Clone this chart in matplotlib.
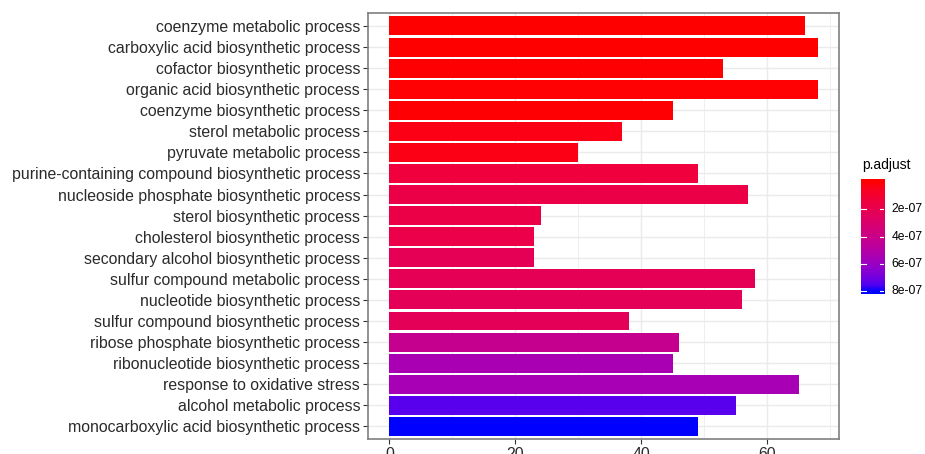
import numpy as np
import matplotlib
matplotlib.use("Agg")
import matplotlib.pyplot as plt

plt.rcParams['font.family'] = ['Liberation Sans', 'DejaVu Sans']

categories = [
    "coenzyme metabolic process",
    "carboxylic acid biosynthetic process",
    "cofactor biosynthetic process",
    "organic acid biosynthetic process",
    "coenzyme biosynthetic process",
    "sterol metabolic process",
    "pyruvate metabolic process",
    "purine-containing compound biosynthetic process",
    "nucleoside phosphate biosynthetic process",
    "sterol biosynthetic process",
    "cholesterol biosynthetic process",
    "secondary alcohol biosynthetic process",
    "sulfur compound metabolic process",
    "nucleotide biosynthetic process",
    "sulfur compound biosynthetic process",
    "ribose phosphate biosynthetic process",
    "ribonucleotide biosynthetic process",
    "response to oxidative stress",
    "alcohol metabolic process",
    "monocarboxylic acid biosynthetic process",
]
counts = [66, 68, 53, 68, 45, 37, 30, 49, 57, 24, 23, 23, 58, 56, 38, 46, 45, 65, 55, 49]
p_adjust = [5e-10, 1e-09, 3e-09, 4e-09, 6e-09, 3.2e-08, 3.2e-08, 1.36e-07, 1.76e-07, 1.76e-07,
            1.78e-07, 2.24e-07, 2.24e-07, 2.25e-07, 2.26e-07, 4.24e-07, 5.5e-07, 5.55e-07, 7.44e-07, 8.0e-07]
x_ticks = [0, 20, 40, 60]
cbar_ticks = [2e-07, 4e-07, 6e-07, 8e-07]
cbar_labels = ["2e-07", "4e-07", "6e-07", "8e-07"]

# --- Lab-space gradient red -> blue (as ggplot's seq_gradient_pal) ---
M = np.array([[0.4124564, 0.3575761, 0.1804375],
              [0.2126729, 0.7151522, 0.0721750],
              [0.0193339, 0.1191920, 0.9503041]])
Minv = np.linalg.inv(M)
WHITE = np.array([0.95047, 1.0, 1.08883])

def rgb2lab(rgb):
    c = np.asarray(rgb, float)
    lin = np.where(c <= 0.04045, c / 12.92, ((c + 0.055) / 1.055) ** 2.4)
    xyz = M @ lin / WHITE
    f = np.where(xyz > (6/29) ** 3, np.cbrt(xyz), xyz / (3 * (6/29) ** 2) + 4/29)
    return np.array([116 * f[1] - 16, 500 * (f[0] - f[1]), 200 * (f[1] - f[2])])

def lab2rgb(lab):
    L, a, b = lab
    fy = (L + 16) / 116
    fx = fy + a / 500
    fz = fy - b / 200
    f = np.array([fx, fy, fz])
    xyz = np.where(f > 6/29, f ** 3, 3 * (6/29) ** 2 * (f - 4/29)) * WHITE
    lin = Minv @ xyz
    lin = np.clip(lin, 0, 1)
    c = np.where(lin <= 0.0031308, 12.92 * lin, 1.055 * lin ** (1/2.4) - 0.055)
    return np.clip(c, 0, 1)

LAB_LO = rgb2lab([1, 0, 0])
LAB_HI = rgb2lab([0, 0, 1])

def grad(t):
    return lab2rgb(LAB_LO + (LAB_HI - LAB_LO) * t)

vmin, vmax = min(p_adjust), max(p_adjust)
colors = [grad((p - vmin) / (vmax - vmin)) for p in p_adjust]

W, H = 925, 454
fig = plt.figure(figsize=(W / 100, H / 100), dpi=100)

px_l, px_r, px_t, px_b = 368, 839, 13.3, 439
ax = fig.add_axes([px_l / W, 1 - px_b / H, (px_r - px_l) / W, (px_b - px_t) / H])

n = len(categories)
ypos = np.arange(n)
ax.set_axisbelow(True)
ax.barh(ypos, counts, height=0.9, color=colors, edgecolor='none', zorder=2)

xmax = max(counts)
ax.set_xlim(-0.05 * xmax, xmax * 1.05)
ax.set_ylim(n - 1 + 0.6, -0.6)

for v in range(10, 80, 20):
    ax.axvline(v, color='#EBEBEB', lw=0.55, zorder=0)
for v in x_ticks:
    ax.axvline(v, color='#EBEBEB', lw=1.07, zorder=0)
for y in ypos:
    ax.axhline(y, color='#EBEBEB', lw=1.07, zorder=0)

ax.set_xticks(x_ticks)
ax.set_xticklabels([str(v) for v in x_ticks])
ax.set_yticks(ypos)
ax.set_yticklabels(categories)
ax.tick_params(axis='both', labelsize=11.4, labelcolor='#2b2b2b', color='#333333',
               length=3.6, width=0.8, pad=2.0)
for s in ax.spines.values():
    s.set_color('#7f7f7f')
    s.set_linewidth(1.2)

# --- colorbar (reversed: low values at top) ---
cb_l, cb_r, cb_t, cb_b = 861, 884.3, 179.3, 294.3
cax = fig.add_axes([cb_l / W, 1 - cb_b / H, (cb_r - cb_l) / W, (cb_b - cb_t) / H])
nbin = 20
vals = np.linspace(vmin, vmax, nbin)
img = np.array([[grad((v - vmin) / (vmax - vmin))] for v in vals])
hb = (vmax - vmin) / (nbin - 1) / 2
cax.imshow(img, aspect='auto', interpolation='bilinear',
           extent=[0, 1, vmax + hb, vmin - hb], origin='upper')
cax.set_xlim(0, 1)
cax.set_ylim(vmax + hb, vmin - hb)
for v in cbar_ticks:
    cax.plot([0, 0.2], [v, v], color='white', lw=0.8)
    cax.plot([0.8, 1], [v, v], color='white', lw=0.8)
cax.set_xticks([])
cax.set_yticks([])
for s in cax.spines.values():
    s.set_visible(False)
for v, lab in zip(cbar_ticks, cbar_labels):
    cax.text(1.32, v, lab, ha='left', va='center', fontsize=8.7, color='black',
             transform=cax.transData)
fig.text(cb_l / W + 0.001, 1 - 165 / H, "p.adjust", ha='left', va='center', fontsize=10, color='black')

fig.savefig("out.png", dpi=100)
